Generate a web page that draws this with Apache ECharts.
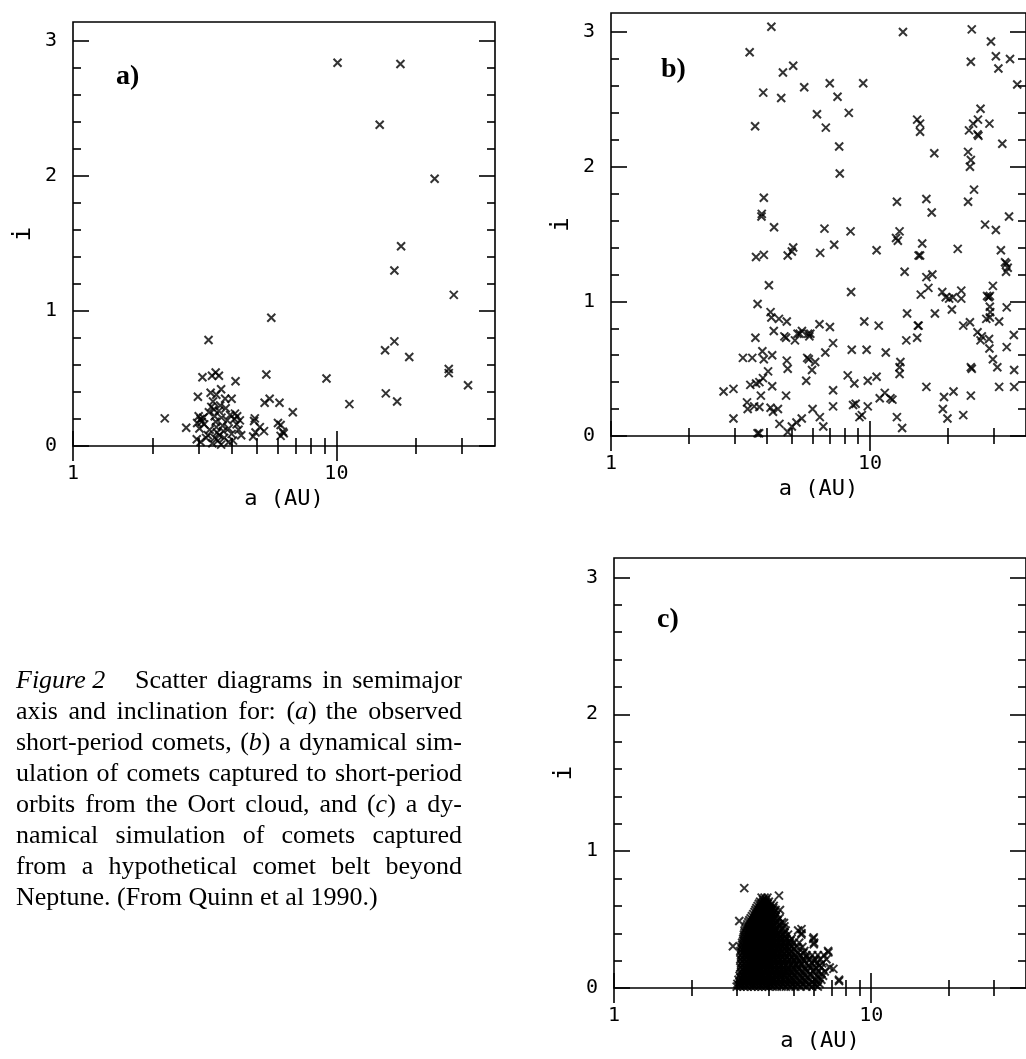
<!DOCTYPE html>
<html>
<head>
<meta charset="utf-8">
<title>Figure 2 - semimajor axis vs inclination</title>
<script src="https://cdn.jsdelivr.net/npm/echarts@6/dist/echarts.min.js"></script>
<style>
html, body { margin: 0; padding: 0; background: #fff; }
#chart { width: 1026px; height: 1059px; }
</style>
</head>
<body>
<div id="chart"></div>
<script>
// (a) observed short-period comets: [a (AU), i]
var panelA = [
    [10.1, 2.84], [17.5, 2.83], [14.6, 2.38], [23.6, 1.98], [17.6, 1.48], [16.6, 1.30], [27.9, 1.12],
    [5.66, 0.95], [3.27, 0.785], [16.6, 0.775], [15.3, 0.71], [18.9, 0.66], [26.7, 0.57], [26.7, 0.54],
    [31.6, 0.45], [9.17, 0.50], [11.2, 0.31], [15.4, 0.39], [17.0, 0.33], [6.83, 0.25], [5.42, 0.53],
    [5.34, 0.32], [5.58, 0.35], [6.08, 0.32], [4.14, 0.48], [2.23, 0.205], [2.69, 0.135], [2.98, 0.365],
    [3.10, 0.51], [3.37, 0.52], [3.48, 0.545], [3.58, 0.52], [3.65, 0.42], [3.33, 0.395], [4.0, 0.35],
    [3.78, 0.35], [4.90, 0.205], [4.87, 0.185], [5.12, 0.14], [5.31, 0.11], [4.83, 0.07], [4.93, 0.10],
    [6.0, 0.17], [6.14, 0.155], [6.26, 0.105], [6.14, 0.075], [6.31, 0.095], [4.12, 0.24],
    [2.96, 0.17], [3.0, 0.22], [3.05, 0.20], [3.08, 0.18], [3.12, 0.21], [3.15, 0.16], [3.02, 0.13],
    [2.95, 0.05], [3.05, 0.03], [3.2, 0.06], [3.25, 0.08], [3.3, 0.12], [3.35, 0.29], [3.40, 0.33],
    [3.43, 0.27], [3.45, 0.22], [3.48, 0.18], [3.5, 0.14], [3.52, 0.10], [3.45, 0.06], [3.55, 0.04],
    [3.6, 0.08], [3.58, 0.26], [3.62, 0.30], [3.66, 0.21], [3.7, 0.15], [3.72, 0.11], [3.75, 0.06],
    [3.8, 0.28], [3.85, 0.19], [3.9, 0.13], [3.95, 0.23], [4.0, 0.09], [4.05, 0.04], [4.1, 0.20],
    [4.18, 0.16], [4.25, 0.12], [4.3, 0.19], [4.35, 0.08], [3.38, 0.02], [3.5, 0.38], [3.28, 0.25],
    [3.9, 0.03], [4.2, 0.22], [3.65, 0.01]
];

// (b) comets captured from the Oort cloud
var panelB = [
    [4.16, 3.04], [3.43, 2.85], [13.4, 3.0], [24.7, 3.02], [29.3, 2.93], [30.6, 2.82], [31.3, 2.73],
    [34.7, 2.80], [24.5, 2.78], [5.05, 2.75], [4.61, 2.70], [3.87, 2.55], [4.54, 2.51], [5.57, 2.59],
    [6.99, 2.62], [7.49, 2.52], [9.41, 2.62], [3.60, 2.30], [6.24, 2.39], [6.75, 2.29], [8.28, 2.40],
    [7.60, 2.15], [7.64, 1.95], [15.2, 2.35], [15.6, 2.32], [15.6, 2.26], [17.7, 2.10], [24.1, 2.27],
    [25.0, 2.32], [26.1, 2.35], [26.7, 2.43], [26.0, 2.24], [26.2, 2.23], [28.9, 2.32], [32.4, 2.17],
    [23.9, 2.11], [24.5, 2.05], [24.3, 2.00], [25.2, 1.83], [23.9, 1.74], [16.5, 1.76], [17.3, 1.66],
    [12.7, 1.74], [13.0, 1.52], [12.6, 1.47], [12.8, 1.45], [15.9, 1.43], [15.4, 1.34], [15.6, 1.34],
    [21.8, 1.39], [27.8, 1.57], [30.6, 1.53], [34.4, 1.63], [32.0, 1.38], [33.2, 1.29], [33.6, 1.28],
    [34.0, 1.25], [33.5, 1.22], [37.0, 2.61],
    [10.6, 1.38], [13.6, 1.22], [16.5, 1.18], [17.4, 1.20], [15.7, 1.05], [16.8, 1.10], [19.0, 1.07],
    [19.6, 1.03], [20.2, 1.02], [20.7, 0.94], [20.9, 1.03], [22.5, 1.08], [22.5, 1.02], [17.8, 0.91],
    [13.9, 0.91], [15.4, 0.82], [15.2, 0.73], [13.8, 0.71], [22.9, 0.82], [24.3, 0.845],
    [28.3, 1.04], [28.7, 1.03], [29.0, 1.04], [29.8, 1.115], [29.0, 0.96], [29.1, 0.92], [29.0, 0.88],
    [28.1, 0.87], [31.5, 0.85], [33.7, 0.955], [26.0, 0.77], [27.0, 0.74], [26.7, 0.71], [28.8, 0.72],
    [28.9, 0.65], [29.8, 0.57], [31.0, 0.51], [31.5, 0.365], [24.5, 0.51], [24.7, 0.50], [24.5, 0.30],
    [22.9, 0.155], [21.0, 0.33], [19.3, 0.29], [19.1, 0.20], [19.9, 0.13], [16.5, 0.365], [33.7, 0.66],
    [35.9, 0.75], [36.0, 0.49], [36.0, 0.365],
    [3.89, 1.77], [3.82, 1.65], [3.81, 1.63], [4.26, 1.55], [3.63, 1.33], [3.89, 1.345], [4.07, 1.12],
    [3.68, 0.98], [4.81, 1.34], [5.05, 1.40], [4.99, 1.37], [6.67, 1.54], [6.42, 1.36], [7.27, 1.42],
    [8.41, 1.52], [8.45, 1.07], [4.13, 0.92], [4.16, 0.88], [4.45, 0.87], [4.77, 0.85], [4.25, 0.78],
    [4.67, 0.74], [3.61, 0.73], [3.84, 0.63], [3.89, 0.57], [4.19, 0.60], [3.23, 0.58], [3.51, 0.58],
    [4.04, 0.48], [3.86, 0.43], [3.45, 0.38], [3.63, 0.39], [3.74, 0.40], [4.19, 0.37], [3.79, 0.30],
    [2.72, 0.33], [2.97, 0.35], [2.97, 0.13], [3.35, 0.25], [3.37, 0.20], [3.57, 0.22], [3.74, 0.215],
    [4.13, 0.21], [4.41, 0.20], [4.22, 0.18], [3.68, 0.02], [3.73, 0.02], [4.47, 0.09], [4.81, 0.03],
    [4.99, 0.07], [5.2, 0.10], [5.45, 0.13], [4.77, 0.56], [4.81, 0.50], [4.74, 0.73], [4.74, 0.30],
    [5.13, 0.71], [5.25, 0.76], [5.35, 0.76], [5.46, 0.78], [5.77, 0.76], [5.88, 0.76], [5.83, 0.74],
    [5.67, 0.41], [5.72, 0.58], [5.80, 0.57], [5.97, 0.49], [6.14, 0.55], [6.72, 0.62], [6.38, 0.83],
    [7.0, 0.81], [7.2, 0.69], [6.0, 0.20], [6.4, 0.14], [6.6, 0.07], [7.2, 0.34], [7.2, 0.22],
    [8.2, 0.45], [8.7, 0.39], [8.5, 0.64], [9.7, 0.64], [9.8, 0.41], [10.6, 0.44], [8.6, 0.23],
    [8.8, 0.24], [9.1, 0.14], [9.3, 0.155], [9.8, 0.22], [9.5, 0.85], [10.8, 0.82], [11.5, 0.62],
    [10.9, 0.28], [11.4, 0.32], [12.0, 0.28], [12.2, 0.27], [13.1, 0.55], [13.0, 0.51], [13.0, 0.46],
    [12.7, 0.14], [13.3, 0.06], [15.3, 0.82]
];

// (c) comets captured from a trans-Neptunian belt: dense core, listed row by row (i, then a values)
var panelCRowI = [0.66, 0.645, 0.63, 0.615, 0.60, 0.585, 0.57, 0.555, 0.54, 0.525, 0.51, 0.495,
    0.48, 0.465, 0.45, 0.435, 0.42, 0.405, 0.39, 0.375, 0.36, 0.345, 0.33, 0.315, 0.30, 0.285,
    0.27, 0.255, 0.24, 0.225, 0.21, 0.195, 0.18, 0.165, 0.15, 0.135, 0.12, 0.105, 0.09, 0.075,
    0.06, 0.045, 0.03, 0.02, 0.01];
var panelCRowA = [
    [3.75, 3.85, 3.95],
    [3.8, 3.9],
    [3.7, 3.8, 3.9, 4.0],
    [3.66, 3.76, 3.86, 3.96, 4.1],
    [3.62, 3.72, 3.82, 3.92, 4.05, 4.18],
    [3.58, 3.7, 3.8, 3.92, 4.04, 4.16],
    [3.55, 3.66, 3.76, 3.86, 3.98, 4.1, 4.25],
    [3.52, 3.64, 3.74, 3.84, 3.94, 4.06, 4.2],
    [3.48, 3.6, 3.7, 3.8, 3.9, 4.0, 4.15, 4.3],
    [3.44, 3.56, 3.66, 3.76, 3.86, 3.96, 4.1, 4.25],
    [3.4, 3.52, 3.64, 3.74, 3.84, 3.95, 4.08, 4.22, 4.4],
    [3.36, 3.48, 3.6, 3.7, 3.8, 3.9, 4.02, 4.15, 4.32],
    [3.33, 3.45, 3.56, 3.68, 3.78, 3.88, 4.0, 4.12, 4.3, 4.5],
    [3.3, 3.42, 3.52, 3.62, 3.72, 3.83, 3.94, 4.06, 4.2, 4.4],
    [3.28, 3.4, 3.5, 3.62, 3.72, 3.82, 3.94, 4.06, 4.2, 4.38, 4.6],
    [3.25, 3.36, 3.46, 3.56, 3.66, 3.76, 3.86, 3.97, 4.1, 4.24, 4.5],
    [3.22, 3.35, 3.46, 3.57, 3.68, 3.78, 3.88, 4.0, 4.12, 4.26, 4.45, 4.65, 5.2],
    [3.22, 3.33, 3.44, 3.55, 3.65, 3.75, 3.85, 3.96, 4.08, 4.22, 4.38, 4.6],
    [3.2, 3.3, 3.42, 3.52, 3.63, 3.74, 3.84, 3.95, 4.08, 4.2, 4.35, 4.55, 4.75, 5.35],
    [3.2, 3.3, 3.4, 3.5, 3.6, 3.7, 3.8, 3.9, 4.02, 4.14, 4.28, 4.44, 4.62],
    [3.18, 3.28, 3.38, 3.5, 3.6, 3.7, 3.8, 3.92, 4.04, 4.16, 4.3, 4.48, 4.68, 4.9, 5.95],
    [3.18, 3.28, 3.38, 3.48, 3.58, 3.68, 3.78, 3.9, 4.02, 4.14, 4.28, 4.44, 4.62, 4.85],
    [3.15, 3.25, 3.36, 3.46, 3.56, 3.66, 3.76, 3.88, 4.0, 4.12, 4.26, 4.42, 4.6, 4.8, 5.0, 5.25, 6.0],
    [3.15, 3.26, 3.36, 3.46, 3.56, 3.66, 3.77, 3.88, 4.0, 4.13, 4.28, 4.45, 4.62, 4.82],
    [3.12, 3.22, 3.32, 3.43, 3.53, 3.63, 3.73, 3.84, 3.96, 4.08, 4.22, 4.38, 4.55, 4.72, 4.92, 5.15, 5.4],
    [3.14, 3.24, 3.34, 3.44, 3.54, 3.64, 3.74, 3.85, 3.97, 4.1, 4.24, 4.4, 4.58, 4.78, 5.0],
    [3.1, 3.2, 3.3, 3.4, 3.5, 3.6, 3.7, 3.8, 3.92, 4.04, 4.18, 4.34, 4.5, 4.7, 4.88, 5.1, 5.5, 6.8],
    [3.15, 3.26, 3.36, 3.46, 3.56, 3.66, 3.77, 3.88, 4.0, 4.13, 4.28, 4.44, 4.6, 4.8, 5.2, 5.45],
    [3.12, 3.24, 3.35, 3.46, 3.56, 3.66, 3.76, 3.88, 4.0, 4.14, 4.3, 4.46, 4.64, 4.84, 5.05, 5.3, 5.6, 5.9, 6.2, 6.55],
    [3.14, 3.26, 3.37, 3.47, 3.57, 3.67, 3.78, 3.9, 4.02, 4.16, 4.32, 4.5, 4.7, 4.9, 5.12, 5.6],
    [3.1, 3.2, 3.32, 3.42, 3.52, 3.62, 3.72, 3.84, 3.96, 4.1, 4.25, 4.42, 4.6, 4.8, 5.0, 5.22, 5.45, 5.75, 6.05, 6.35, 6.7],
    [3.15, 3.27, 3.38, 3.48, 3.58, 3.68, 3.8, 3.92, 4.05, 4.2, 4.36, 4.55, 4.75, 5.0, 5.25, 5.5, 6.0],
    [3.12, 3.22, 3.34, 3.45, 3.55, 3.66, 3.78, 3.9, 4.04, 4.18, 4.34, 4.52, 4.7, 4.9, 5.12, 5.35, 5.6, 5.88, 6.15, 6.45],
    [3.14, 3.25, 3.35, 3.45, 3.55, 3.65, 3.76, 3.88, 4.0, 4.14, 4.3, 4.48, 4.66, 4.88, 5.1, 5.35, 5.7, 6.3],
    [3.1, 3.2, 3.3, 3.4, 3.5, 3.6, 3.7, 3.82, 3.95, 4.08, 4.22, 4.4, 4.58, 4.78, 4.98, 5.2, 5.5, 5.8, 6.1, 6.4, 6.9],
    [3.16, 3.28, 3.38, 3.48, 3.58, 3.7, 3.82, 3.94, 4.07, 4.22, 4.38, 4.56, 4.76, 5.0, 5.25, 5.55, 6.0],
    [3.12, 3.24, 3.35, 3.46, 3.56, 3.68, 3.8, 3.92, 4.06, 4.2, 4.36, 4.54, 4.72, 4.92, 5.15, 5.4, 5.65, 5.95, 6.25, 6.6],
    [3.12, 3.22, 3.33, 3.44, 3.54, 3.65, 3.77, 3.89, 4.02, 4.16, 4.32, 4.5, 4.7, 4.92, 5.2, 5.45, 5.8, 6.4],
    [3.08, 3.18, 3.3, 3.4, 3.5, 3.62, 3.74, 3.86, 3.98, 4.12, 4.28, 4.46, 4.64, 4.85, 5.05, 5.3, 5.55, 5.85, 6.15, 6.5],
    [3.1, 3.2, 3.3, 3.42, 3.52, 3.62, 3.74, 3.86, 3.98, 4.12, 4.28, 4.45, 4.65, 4.9, 5.12, 5.4, 5.65, 6.25],
    [3.05, 3.15, 3.26, 3.36, 3.48, 3.58, 3.7, 3.82, 3.94, 4.08, 4.22, 4.4, 4.6, 4.8, 5.0, 5.25, 5.5, 5.78, 6.05, 6.4, 7.5],
    [3.08, 3.18, 3.28, 3.38, 3.5, 3.6, 3.72, 3.84, 3.96, 4.1, 4.25, 4.42, 4.62, 4.82, 5.05, 5.3, 5.55, 5.9, 6.15],
    [3.02, 3.12, 3.22, 3.34, 3.44, 3.55, 3.66, 3.78, 3.9, 4.04, 4.18, 4.34, 4.52, 4.72, 4.92, 5.15, 5.4, 5.7, 6.0, 6.3],
    [3.06, 3.16, 3.26, 3.37, 3.48, 3.58, 3.7, 3.82, 3.94, 4.07, 4.22, 4.4, 4.58, 4.78, 5.0, 5.22, 5.48, 5.75, 6.1],
    [3.0, 3.1, 3.2, 3.3, 3.42, 3.52, 3.64, 3.76, 3.88, 4.0, 4.14, 4.3, 4.48, 4.66, 4.86, 5.08, 5.32, 5.6, 5.9, 6.2]
];
var panelCOutliers = [
    [3.21, 0.73], [4.38, 0.675], [3.07, 0.49], [2.90, 0.305], [4.42, 0.57], [4.58, 0.475],
    [5.36, 0.43], [5.36, 0.40], [5.98, 0.37], [5.98, 0.32], [6.82, 0.26], [7.13, 0.14], [7.5, 0.05]
];

var xMajorTicks = [1, 10];
var xMinorTicks = [2, 3, 4, 5, 6, 7, 8, 9, 20, 30];
var yMajorTicks = [0, 1, 2, 3];
var yMinorTicks = [0.2, 0.4, 0.6, 0.8, 1.2, 1.4, 1.6, 1.8, 2.2, 2.4, 2.6, 2.8];

// caption, one entry per printed line; {it|..} marks italics
var captionLead = '{it|Figure 2}';
var captionLines = [
    'Scatter diagrams in semimajor',
    'axis and inclination for:  ({it|a}) the observed',
    'short-period comets, ({it|b}) a dynamical sim-',
    'ulation of comets captured to short-period',
    'orbits from the Oort cloud, and ({it|c}) a dy-',
    'namical simulation of comets captured',
    'from a hypothetical comet belt beyond',
    'Neptune. (From Quinn et al 1990.)'
];

var panelC = panelCOutliers.slice();
panelCRowI.forEach(function (iv, r) {
    panelCRowA[r].forEach(function (av) { panelC.push([av, iv]); });
});

var grids = [
    {left: 73, top: 22, width: 422, height: 424, show: true, borderColor: '#000', borderWidth: 1.6},
    {left: 611, top: 13, width: 422, height: 423, show: true, borderColor: '#000', borderWidth: 1.6},
    {left: 614, top: 558, width: 424, height: 430, show: true, borderColor: '#000', borderWidth: 1.6}
];
var panelLabels = [
    {text: 'a)', x: 116, y: 77},
    {text: 'b)', x: 661, y: 70},
    {text: 'c)', x: 657, y: 620}
];

var mono = 'DejaVu Sans Mono';
var serif = 'Liberation Serif';
var capFont = 26;
var tickLine = {color: '#000', width: 1.6};
var xAxes = [], yAxes = [];

grids.forEach(function (g, k) {
    function xAxis(pos, ticks, len, withLabels) {
        return {
            type: 'log', logBase: 10, min: 1, max: 40, gridIndex: k, position: pos,
            axisLine: {show: false},
            splitLine: {show: false},
            axisTick: {show: true, inside: true, length: len, customValues: ticks, lineStyle: tickLine},
            axisLabel: withLabels ? {show: true, customValues: xMajorTicks, margin: 18, color: '#000',
                fontFamily: mono, fontSize: 20} : {show: false},
            name: withLabels ? 'a (AU)' : '',
            nameLocation: 'middle', nameGap: 42,
            nameTextStyle: {color: '#000', fontFamily: mono, fontSize: 22}
        };
    }
    function yAxis(pos, ticks, len, withLabels) {
        return {
            type: 'value', min: 0, max: 3.1416, gridIndex: k, position: pos,
            axisLine: {show: false},
            splitLine: {show: false},
            axisTick: {show: true, inside: true, length: len, customValues: ticks, lineStyle: tickLine},
            axisLabel: withLabels ? {show: true, customValues: yMajorTicks, margin: 16, color: '#000',
                fontFamily: mono, fontSize: 20} : {show: false},
            name: withLabels ? 'i' : '',
            nameLocation: 'middle', nameGap: 37, nameRotate: 90,
            nameTextStyle: {color: '#000', fontFamily: mono, fontSize: 24}
        };
    }
    xAxes.push(xAxis('bottom', xMajorTicks, 15, true), xAxis('bottom', xMinorTicks, 8, false),
        xAxis('top', xMajorTicks, 15, false), xAxis('top', xMinorTicks, 8, false));
    yAxes.push(yAxis('left', yMajorTicks, 16, true), yAxis('left', yMinorTicks, 8, false),
        yAxis('right', yMajorTicks, 16, false), yAxis('right', yMinorTicks, 8, false));
});

var cross = 'path://M0,0L10,10M10,0L0,10';
function scatter(k, data) {
    return {
        type: 'scatter', xAxisIndex: 4 * k, yAxisIndex: 4 * k, data: data,
        symbol: cross, symbolSize: 8, silent: true,
        itemStyle: {color: 'none', borderColor: '#000', borderWidth: 2},
        emphasis: {disabled: true}
    };
}

var graphics = panelLabels.map(function (p) {
    return {
        type: 'text', x: p.x, y: p.y,
        style: {text: p.text, fontFamily: serif, fontSize: 28, fontWeight: 'bold',
            fill: '#000', align: 'left', verticalAlign: 'middle'}
    };
});

// justified caption: place words one by one across the column width
var measureCtx = document.createElement('canvas').getContext('2d');
function wordWidth(w) {
    var plain = w.replace(/\{it\|([^}]*)\}/g, '$1');
    measureCtx.font = (w.indexOf('{it|') === 0 ? 'italic ' : '') + capFont + 'px "' + serif + '"';
    return measureCtx.measureText(plain).width;
}
function wordText(w, x, y) {
    return {
        type: 'text', x: x, y: y,
        style: {
            text: w, fontFamily: serif, fontSize: capFont, fill: '#000', align: 'left', verticalAlign: 'middle',
            rich: {it: {fontFamily: serif, fontSize: capFont, fontStyle: 'italic', fill: '#000'}}
        }
    };
}
var capLeft = 16, capRight = 462, capTop = 681, capStep = 31;
graphics.push(wordText(captionLead, capLeft, capTop));
captionLines.forEach(function (line, n) {
    var words = line.split(/\s+/);
    var x0 = n === 0 ? 135 : capLeft;
    var y = capTop + capStep * n;
    var total = 0;
    words.forEach(function (w) { total += wordWidth(w); });
    measureCtx.font = capFont + 'px "' + serif + '"';
    var gap = measureCtx.measureText(' ').width;
    if (n < captionLines.length - 1 && words.length > 1) {
        gap = Math.max(gap * 0.8, (capRight - x0 - total) / (words.length - 1));
    }
    var x = x0;
    words.forEach(function (w) {
        graphics.push(wordText(w, x, y));
        x += wordWidth(w) + gap;
    });
});

var chart = echarts.init(document.getElementById('chart'));
chart.setOption({
    animation: false,
    backgroundColor: '#fff',
    grid: grids,
    xAxis: xAxes,
    yAxis: yAxes,
    series: [scatter(0, panelA), scatter(1, panelB), scatter(2, panelC)],
    graphic: graphics
});
</script>
</body>
</html>
